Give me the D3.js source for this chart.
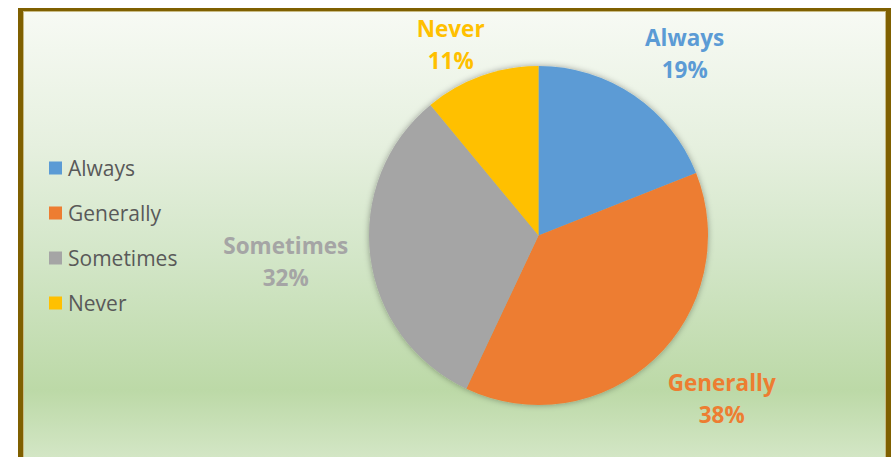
<!DOCTYPE html>
<html>
<head>
<meta charset="utf-8">
<script src="https://cdn.jsdelivr.net/npm/d3@7"></script>
<style>
  html, body { margin: 0; padding: 0; background: #ffffff; }
  svg { display: block; }
</style>
</head>
<body>
<div id="chart"></div>
<script>
// chart data
const categories = ["Always", "Generally", "Sometimes", "Never"];
const shares = [19, 38, 32, 11];
const colors = ["#5b9bd5", "#ed7d31", "#a5a5a5", "#ffc000"];

const width = 891;
const height = 457;
const font = "'Open Sans', sans-serif";

const svg = d3
  .select("#chart")
  .append("svg")
  .attr("width", width)
  .attr("height", height);

const defs = svg.append("defs");

// background gradient of the chart area
const bg = defs
  .append("linearGradient")
  .attr("id", "bg")
  .attr("gradientUnits", "userSpaceOnUse")
  .attr("x1", 0).attr("y1", 11)
  .attr("x2", 0).attr("y2", 457);
[
  [0, "#f7faf4"],
  [0.3, "#e6f0df"],
  [0.55, "#d3e6c8"],
  [0.85, "#bcd9a7"],
  [1, "#d3e6c5"],
].forEach(([o, c]) => bg.append("stop").attr("offset", o).attr("stop-color", c));

// soft shadow round the pie
const shadow = defs
  .append("filter")
  .attr("id", "shadow")
  .attr("x", "-20%").attr("y", "-20%")
  .attr("width", "140%").attr("height", "140%");
shadow
  .append("feDropShadow")
  .attr("dx", 0)
  .attr("dy", 0)
  .attr("stdDeviation", 3)
  .attr("flood-color", "#000")
  .attr("flood-opacity", 0.35);

// frame
svg.append("rect").attr("x", 18).attr("y", 8).attr("width", 873).attr("height", 460).attr("fill", "#7f6000");
svg.append("rect").attr("x", 23).attr("y", 11).attr("width", 863).attr("height", 460).attr("fill", "#c9bb85");
svg.append("rect").attr("x", 24).attr("y", 12).attr("width", 861).attr("height", 460).attr("fill", "url(#bg)");

// pie
const cx = 538.5;
const cy = 235.5;
const radius = 169.5;

const pie = d3.pie().sort(null).value((d) => d.value);
const arcs = pie(categories.map((c, i) => ({ name: c, value: shares[i], color: colors[i] })));
const arc = d3.arc().innerRadius(0).outerRadius(radius);

const g = svg.append("g").attr("transform", `translate(${cx},${cy})`);

g.append("g")
  .attr("filter", "url(#shadow)")
  .selectAll("path")
  .data(arcs)
  .enter()
  .append("path")
  .attr("d", arc)
  .attr("fill", (d) => d.data.color);

// data labels, outside end
const labelSize = 22.5;
const lineH = 32;
const capH = labelSize * 0.714;
const gap = 20;
const minTop = 21;

const labels = g
  .selectAll("text.label")
  .data(arcs)
  .enter()
  .append("text")
  .attr("class", "label")
  .attr("text-anchor", "middle")
  .attr("font-family", font)
  .attr("font-weight", 700)
  .attr("font-size", labelSize)
  .attr("fill", (d) => d.data.color);

labels.append("tspan").attr("class", "l1").attr("x", 0).text((d) => d.data.name);
labels.append("tspan").attr("class", "l2").attr("x", 0).text((d) => d.data.value + "%");

labels.each(function (d) {
  const t = d3.select(this);
  const w = Math.max(
    t.select(".l1").node().getComputedTextLength(),
    t.select(".l2").node().getComputedTextLength()
  );
  const h = capH + lineH;
  const mid = (d.startAngle + d.endAngle) / 2;
  // labels lean a little towards the horizontal
  const a = mid + (5 * Math.PI / 180) * Math.sin(2 * mid);
  const s = Math.sin(a);
  const c = -Math.cos(a);
  const dist = radius + gap + Math.abs(s) * (w / 2) + Math.abs(c) * (h / 2);
  const x = dist * s;
  // keep clear of the top of the frame
  const y = Math.max(dist * c, minTop - cy + h / 2);
  const y1 = y - h / 2 + capH;
  t.attr("transform", `translate(${x},0)`);
  t.select(".l1").attr("y", y1);
  t.select(".l2").attr("y", y1 + lineH);
});

// legend
const legendY = d3
  .scalePoint()
  .domain(categories)
  .range([168, 303]);

const legend = svg
  .append("g")
  .selectAll("g")
  .data(categories)
  .enter()
  .append("g")
  .attr("transform", (d) => `translate(49,${legendY(d)})`);

legend
  .append("rect")
  .attr("x", 0)
  .attr("y", -6.5)
  .attr("width", 13)
  .attr("height", 13)
  .attr("fill", (d, i) => colors[i]);

legend
  .append("text")
  .attr("x", 19)
  .attr("y", 7.5)
  .attr("font-family", font)
  .attr("font-size", 21)
  .attr("fill", "#595959")
  .text((d) => d);
</script>
</body>
</html>
